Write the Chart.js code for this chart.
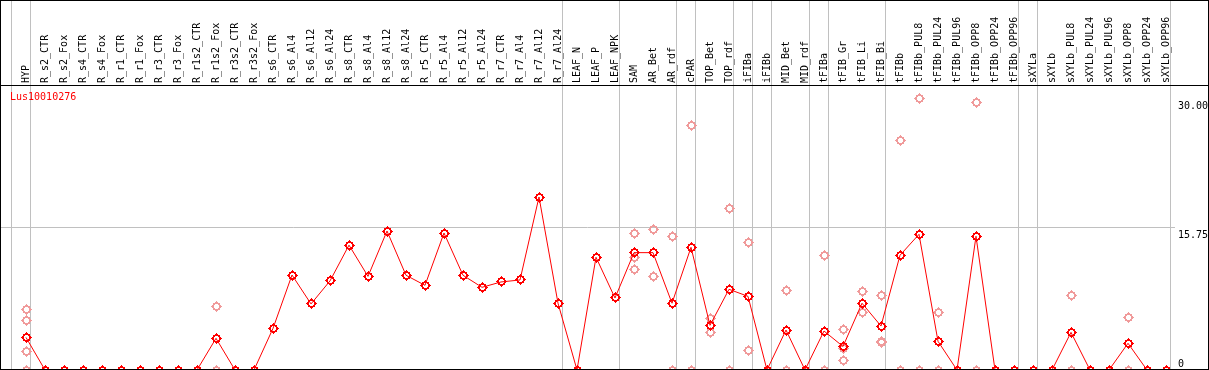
<!DOCTYPE html>
<html>
<head>
<meta charset="utf-8">
<script src="https://cdn.jsdelivr.net/npm/chart.js@4"></script>
<style>
  body { margin: 0; background: #fff; }
  canvas { display: block; }
</style>
</head>
<body>
<canvas id="myChart" width="1209" height="370"></canvas>
<script>
let labels = ['HYP', 'R_s2_CTR', 'R_s2_Fox', 'R_s4_CTR', 'R_s4_Fox', 'R_r1_CTR', 'R_r1_Fox', 'R_r3_CTR', 'R_r3_Fox',
  'R_r1s2_CTR', 'R_r1s2_Fox', 'R_r3s2_CTR', 'R_r3s2_Fox', 'R_s6_CTR', 'R_s6_Al4', 'R_s6_Al12', 'R_s6_Al24',
  'R_s8_CTR', 'R_s8_Al4', 'R_s8_Al12', 'R_s8_Al24', 'R_r5_CTR', 'R_r5_Al4', 'R_r5_Al12', 'R_r5_Al24',
  'R_r7_CTR', 'R_r7_Al4', 'R_r7_Al12', 'R_r7_Al24', 'LEAF_N', 'LEAF_P', 'LEAF_NPK', 'SAM', 'AR_Bet', 'AR_rdf',
  'cPAR', 'TOP_Bet', 'TOP_rdf', 'iFIBa', 'iFIBb', 'MID_Bet', 'MID_rdf', 'tFIBa', 'tFIB_Gr', 'tFIB_Li', 'tFIB_Bi',
  'tFIBb', 'tFIBb_PUL8', 'tFIBb_PUL24', 'tFIBb_PUL96', 'tFIBb_OPP8', 'tFIBb_OPP24', 'tFIBb_OPP96',
  'sXYLa', 'sXYLb', 'sXYLb_PUL8', 'sXYLb_PUL24', 'sXYLb_PUL96', 'sXYLb_OPP8', 'sXYLb_OPP24', 'sXYLb_OPP96'];

// mean expression per sample
let meanValues = [3.6, 0, 0, 0, 0, 0, 0, 0, 0, 0, 3.5, 0, 0, 4.6, 10.5, 7.3, 9.85,
  13.8, 10.35, 15.36, 10.47, 9.36, 15.14, 10.47, 9.14, 9.73, 9.95, 19.12, 7.38,
  0, 12.46, 7.96, 12.97, 12.97, 7.38, 13.56, 4.94, 8.92, 8.14, 0, 4.42, 0, 4.31, 2.6, 7.38, 4.86,
  12.68, 15.0, 3.17, 0, 14.78, 0, 0, 0, 0, 4.16, 0, 0, 2.95, 0, 0];

// individual replicates (sample index, value)
let repIndex = [0, 0, 0, 0, 10, 10, 32, 32, 32, 33, 33, 34, 34, 35, 35, 36, 36, 37, 37, 38, 38,
  40, 40, 42, 42, 43, 43, 43, 44, 44, 45, 45, 45, 46, 46, 47, 47, 48, 48, 50, 50, 55, 55, 58, 58];
let repValues = [6.71, 5.49, 2.06, 0, 7.04, 0, 15.11, 12.38, 11.13, 15.55, 10.36, 14.78, 0, 27.04, 0,
  5.67, 4.12, 17.87, 0, 14.11, 2.18, 8.84, 0, 12.68, 0, 4.53, 2.4, 1.07, 8.7, 6.38, 8.26, 3.17, 3.06,
  25.39, 0, 30.03, 0, 6.38, 0, 29.59, 0, 8.26, 0, 5.82, 0];

let yTicks = [0, 15.75, 30];
let yTickLabels = ['0', '15.75', '30.00'];
let groupEnds = [-1, 0, 28, 31, 34, 35, 37, 38, 39, 41, 42, 45, 52, 53, 60];
let geneName = 'Lus10010276';

// ring marker with small ticks, hard edged like the original
function marker(r, g, b) {
  let c = document.createElement('canvas');
  c.width = 11; c.height = 11;
  let m = c.getContext('2d');
  m.strokeStyle = '#000';
  m.lineWidth = 1.7;
  m.beginPath();
  m.arc(5.5, 5.5, 3.4, 0, Math.PI * 2);
  m.stroke();
  m.fillRect(5, 0, 1, 1);
  m.fillRect(5, 10, 1, 1);
  m.fillRect(0, 5, 1, 1);
  m.fillRect(10, 5, 1, 1);
  let img = m.getImageData(0, 0, 11, 11);
  for (let k = 0; k < img.data.length; k += 4) {
    let on = img.data[k + 3] > 90;
    img.data[k] = r; img.data[k + 1] = g; img.data[k + 2] = b;
    img.data[k + 3] = on ? 255 : 0;
  }
  m.putImageData(img, 0, 0);
  return c;
}

let monoFont = { family: 'DejaVu Sans Mono', size: 10 };

let framePlugin = {
  id: 'frame',
  beforeDatasetsDraw(chart) {
    let c = chart.ctx;
    let xs = chart.scales.x;
    c.save();
    c.fillStyle = '#c0c0c0';
    groupEnds.forEach((i) => {
      let px = Math.round(xs.getPixelForValue(i)) + 4;
      c.fillRect(px, 0, 1, chart.height);
    });
    c.restore();
    c.imageSmoothingEnabled = false;
  },
  afterDraw(chart) {
    let c = chart.ctx;
    let ys = chart.scales.y;
    let area = chart.chartArea;
    c.save();
    c.fillStyle = '#000';
    c.fillRect(0, 0, chart.width, 1);
    c.fillRect(0, 0, 1, chart.height);
    c.fillRect(chart.width - 1, 0, 1, chart.height);
    c.fillRect(0, Math.round(area.top), chart.width, 1);
    c.fillRect(0, chart.height - 1, chart.width, 1);
    c.font = '10px "DejaVu Sans Mono"';
    c.textBaseline = 'top';
    c.textAlign = 'left';
    yTicks.forEach((v, k) => {
      let py = Math.min(ys.getPixelForValue(v) + 3, chart.height - 11);
      c.fillText(yTickLabels[k], area.right + 3, py);
    });
    c.fillStyle = '#ff0000';
    c.textBaseline = 'alphabetic';
    c.fillText(geneName, 10, area.top + 15);
    c.restore();
  }
};

let ctx = document.getElementById('myChart').getContext('2d');

let myChart = new Chart(ctx, {
  type: 'line',
  data: {
    datasets: [{
      data: meanValues.map((v, i) => ({ x: i, y: v })),
      borderColor: '#ff0000',
      borderWidth: 1,
      tension: 0,
      pointStyle: marker(255, 0, 0),
      pointRadius: 5
    }, {
      data: repValues.map((v, k) => ({ x: repIndex[k], y: v })),
      showLine: false,
      borderColor: '#f09a9a',
      pointStyle: marker(240, 154, 154),
      pointRadius: 5
    }]
  },
  options: {
    responsive: false,
    animation: false,
    layout: { padding: 0, autoPadding: false },
    plugins: {
      legend: { display: false },
      tooltip: { enabled: false }
    },
    scales: {
      x: {
        type: 'linear',
        position: 'top',
        min: -26 / 19,
        max: -26 / 19 + 1175 / 19,
        afterBuildTicks: (scale) => {
          scale.ticks = labels.map((_, i) => ({ value: i }));
        },
        afterFit: (scale) => {
          scale.height = 85;
          scale.paddingLeft = 0;
          scale.paddingRight = 0;
        },
        grid: { display: false, drawTicks: false },
        border: { display: false },
        ticks: {
          autoSkip: false,
          minRotation: 90,
          maxRotation: 90,
          padding: 2,
          labelOffset: 12,
          color: '#000',
          font: monoFont,
          callback: (value) => labels[value]
        }
      },
      y: {
        position: 'right',
        min: 0,
        max: 31.5,
        afterBuildTicks: (scale) => {
          scale.ticks = yTicks.map((v) => ({ value: v }));
        },
        afterFit: (scale) => { scale.width = 34; },
        border: { display: false },
        grid: {
          drawTicks: false,
          color: (context) => context.tick && context.tick.value === 15.75 ? '#c0c0c0' : 'rgba(0,0,0,0)'
        },
        ticks: { display: false }
      }
    }
  },
  plugins: [framePlugin]
});
</script>
</body>
</html>
